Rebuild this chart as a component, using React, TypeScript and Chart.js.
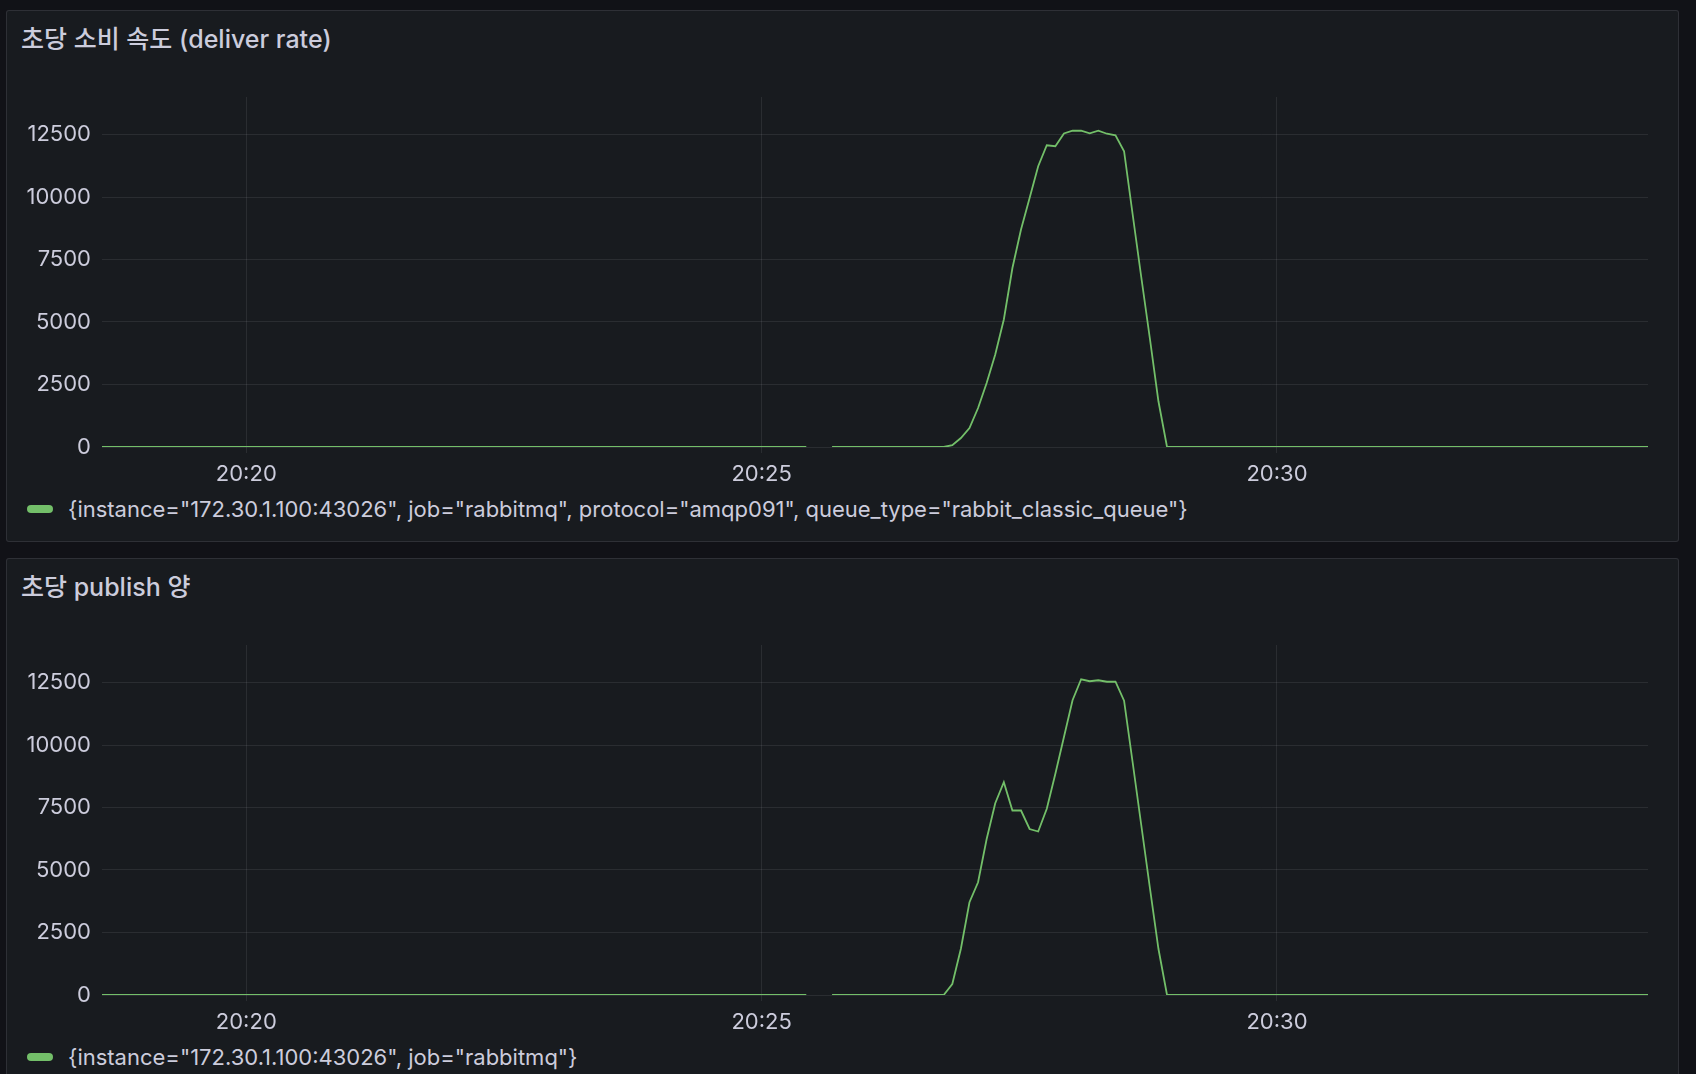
import React, { useEffect, useRef } from "react";
import { Chart, registerables, ChartConfiguration } from "chart.js";

Chart.register(...registerables);

// Sample times (5s scrape); the null entry breaks the line like the missing scrape in the reference
const TIMES: string[] = [
  "20:18:36", "20:25:26", "20:25:31", "20:25:41",
  "20:26:46", "20:26:51", "20:26:56", "20:27:01", "20:27:06", "20:27:11",
  "20:27:16", "20:27:21", "20:27:26", "20:27:31", "20:27:36", "20:27:41",
  "20:27:46", "20:27:51", "20:27:56", "20:28:01", "20:28:06", "20:28:11",
  "20:28:16", "20:28:21", "20:28:26", "20:28:31", "20:28:36", "20:28:41",
  "20:28:46", "20:28:51", "20:28:56", "20:33:36",
];

const DELIVER_RATE: (number | null)[] = [
  0, 0, null, 0,
  0, 70, 360, 760, 1560, 2560,
  3700, 5100, 7160, 8700, 9960, 11230,
  12070, 12030, 12540, 12650, 12650, 12550,
  12650, 12530, 12470, 11830, 9300, 6800,
  4350, 1830, 0, 0,
];

const PUBLISH_RATE: (number | null)[] = [
  0, 0, null, 0,
  0, 440, 1850, 3710, 4510, 6240,
  7670, 8510, 7380, 7380, 6640, 6540,
  7450, 8850, 10320, 11790, 12630, 12550,
  12590, 12530, 12530, 11770, 9300, 6800,
  4300, 1850, 0, 0,
];

const X_TICK_LABELS: string[] = ["20:20", "20:25", "20:30"];
const Y_TICKS: number[] = [0, 2500, 5000, 7500, 10000, 12500];
const Y_MAX = 14000;

const DELIVER_LEGEND =
  '{instance="172.30.1.100:43026", job="rabbitmq", protocol="amqp091", queue_type="rabbit_classic_queue"}';
const PUBLISH_LEGEND = '{instance="172.30.1.100:43026", job="rabbitmq"}';

const FONT = 'Inter, "Noto Sans CJK KR", "Noto Sans", sans-serif';
const TEXT = "rgb(204, 204, 220)";
const GRID = "rgba(204, 204, 220, 0.1)";
const GREEN = "#73BF69";

const toSec = (t: string): number => {
  const [h, m, s = "0"] = t.split(":");
  return Number(h) * 3600 + Number(m) * 60 + Number(s);
};

const fmtTime = (v: number): string => {
  const h = Math.floor(v / 3600);
  const m = Math.floor((v % 3600) / 60);
  return `${h}:${String(m).padStart(2, "0")}`;
};

type PanelProps = {
  top: number;
  title: string;
  values: (number | null)[];
  legend: string;
};

const Panel: React.FC<PanelProps> = ({ top, title, values, legend }) => {
  const canvasRef = useRef<HTMLCanvasElement>(null);

  useEffect(() => {
    if (!canvasRef.current) return;

    const config: ChartConfiguration<"line"> = {
      type: "line",
      data: {
        datasets: [
          {
            data: TIMES.map((t, i) => ({ x: toSec(t), y: values[i] as number })),
            borderColor: GREEN,
            borderWidth: 1.8,
            pointRadius: 0,
            tension: 0,
            spanGaps: false,
            fill: false,
          },
        ],
      },
      options: {
        animation: false,
        responsive: true,
        maintainAspectRatio: false,
        layout: { padding: { left: 0, right: 30, top: 27, bottom: 0 } },
        plugins: {
          legend: { display: false },
          tooltip: { enabled: false },
        },
        scales: {
          x: {
            type: "linear",
            min: toSec(TIMES[0]),
            max: toSec(TIMES[TIMES.length - 1]),
            afterBuildTicks: (scale) => {
              scale.ticks = X_TICK_LABELS.map((l) => ({ value: toSec(l) }));
            },
            afterFit: (scale) => {
              scale.height = 43;
            },
            grid: { color: GRID, lineWidth: 1, drawTicks: true, tickLength: 6 },
            border: { display: false },
            ticks: {
              color: TEXT,
              font: { family: FONT, size: 22 },
              padding: 8,
              maxRotation: 0,
              autoSkip: false,
              callback: (v) => fmtTime(Number(v)),
            },
          },
          y: {
            min: 0,
            max: Y_MAX,
            afterBuildTicks: (scale) => {
              scale.ticks = Y_TICKS.map((v) => ({ value: v }));
            },
            afterFit: (scale) => {
              scale.width = 95;
            },
            grid: { color: GRID, lineWidth: 1, drawTicks: false },
            border: { display: false },
            ticks: {
              color: TEXT,
              font: { family: FONT, size: 22 },
              padding: 11,
              callback: (v) => String(v),
            },
          },
        },
      },
    };

    const chart = new Chart(canvasRef.current, config);
    return () => chart.destroy();
  }, [values]);

  return (
    <div
      style={{
        position: "absolute",
        left: 6,
        top,
        width: 1673,
        height: 532,
        boxSizing: "border-box",
        background: "#181b1f",
        border: "1px solid rgba(204, 204, 220, 0.12)",
        borderRadius: 3,
      }}
    >
      <div
        style={{
          position: "absolute",
          left: 14,
          top: 15,
          fontFamily: FONT,
          fontSize: 25,
          lineHeight: "26px",
          fontWeight: 500,
          color: TEXT,
          whiteSpace: "nowrap",
        }}
      >
        {title}
      </div>
      <div style={{ position: "absolute", left: 0, top: 59, width: 1671, height: 420 }}>
        <canvas ref={canvasRef}></canvas>
      </div>
      <div
        style={{
          position: "absolute",
          left: 20,
          top: 494,
          width: 26,
          height: 8,
          borderRadius: 4,
          background: GREEN,
        }}
      />
      <div
        style={{
          position: "absolute",
          left: 61,
          top: 487,
          fontFamily: FONT,
          fontSize: 22,
          lineHeight: "22px",
          color: TEXT,
          whiteSpace: "nowrap",
        }}
      >
        {legend}
      </div>
    </div>
  );
};

const App: React.FC = () => {
  return (
    <div
      style={{
        position: "fixed",
        left: 0,
        top: 0,
        width: 1696,
        height: 1074,
        overflow: "hidden",
        background: "#111217",
      }}
    >
      <Panel top={10} title="초당 소비 속도 (deliver rate)" values={DELIVER_RATE} legend={DELIVER_LEGEND} />
      <Panel top={558} title="초당 publish 양" values={PUBLISH_RATE} legend={PUBLISH_LEGEND} />
    </div>
  );
};

export default App;
